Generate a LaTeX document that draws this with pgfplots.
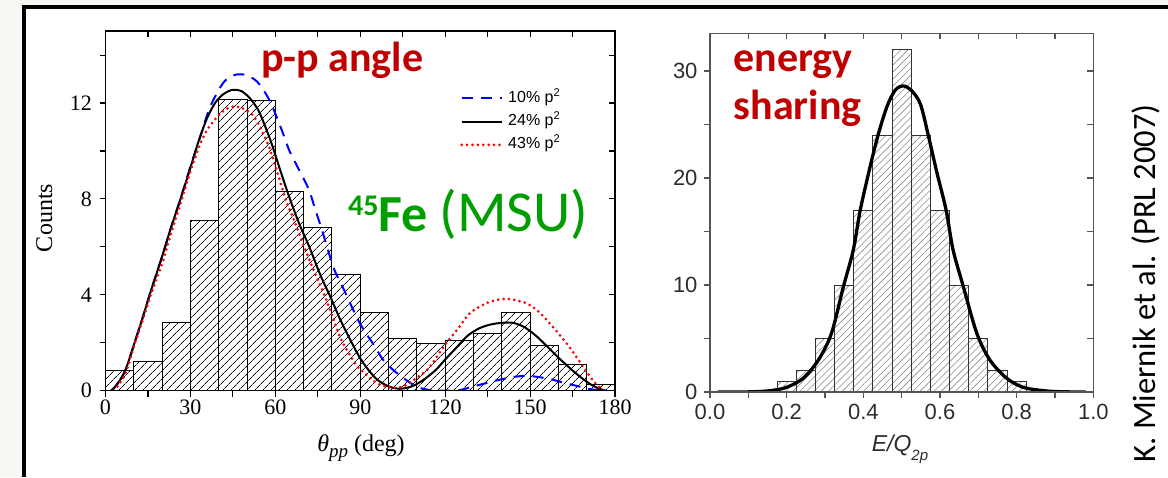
\documentclass[border=0pt]{standalone}
\usepackage{fontspec}
\setmainfont{Liberation Serif}
\newfontfamily\arialfont{Liberation Sans}
\newfontfamily\calfont{Carlito}
\usepackage{pgfplots}
\pgfplotsset{compat=1.18}
\usetikzlibrary{patterns.meta}
\definecolor{bg}{RGB}{247,247,243}
\definecolor{dred}{RGB}{192,0,0}
\definecolor{fegreen}{RGB}{0,158,0}
\definecolor{axgray}{RGB}{85,85,85}
\definecolor{tickgray}{RGB}{45,45,45}
\pgfplotsset{
  leftbase/.style={at={(105.5pt,86.3pt)}, anchor=south west, scale only axis,
    width=509.5pt, height=359.6pt, xmin=0, xmax=180, ymin=0, ymax=15,
    xtick={0,30,...,180}, minor xtick={15,45,...,165},
    ytick={0,4,8,12}, minor ytick={2,6,10,14},
    axis line style={line width=1.2pt},
    every tick/.style={black, line width=1.1pt},
    major tick length=6pt, minor tick length=6pt},
  rightbase/.style={at={(710pt,85pt)}, anchor=south west, scale only axis,
    width=383.3pt, height=358.5pt, xmin=0, xmax=1, ymin=0, ymax=33.5,
    xtick={0,0.2,...,1.0}, minor xtick={0.1,0.3,0.5,0.7,0.9},
    ytick={0,10,20,30}, minor ytick={5,15,25},
    axis line style={line width=1.3pt, draw=axgray},
    every tick/.style={axgray, line width=1.2pt},
    major tick length=6pt, minor tick length=6pt}
}
\begin{document}
\begin{tikzpicture}[x=1pt,y=1pt]
\useasboundingbox (0,0) rectangle (1168,477);
\fill[bg] (0,0) rectangle (1168,477);
\fill[white] (24,0) rectangle (1168,469.5);
\draw[line width=4pt] (24,0) -- (24,469.5) -- (1168,469.5);

% ---------------- left panel ----------------
\begin{axis}[leftbase, xtick pos=left, ytick pos=left, tick align=outside,
  ticklabel style={font=\fontsize{22}{22}\selectfont},
  yticklabel style={xshift=-4pt},
  /pgf/number format/assume math mode=true,
  legend style={at={(0.6958,0.836)}, anchor=north west, draw=none, fill=none,
    inner sep=0pt, row sep=7.3pt, column sep=5pt,
    font=\arialfont\fontsize{16}{16}\selectfont,
    nodes={inner sep=0pt, text height=12pt, text depth=4pt}},
  legend cell align=left,
  legend image code/.code={\draw[#1] (0pt,0pt) -- (40pt,0pt);}]
\addplot[ybar interval, draw=black, line width=1pt,
  pattern={Lines[angle=45,distance=5.4pt,line width=0.75pt]}, pattern color=black, forget plot]
coordinates {(0,0.85)(10,1.22)(20,2.85)(30,7.1)(40,12.15)(50,12.1)(60,8.33)(70,6.82)(80,4.86)(90,3.26)(100,2.19)(110,1.96)(120,2.08)(130,2.37)(140,3.27)(150,1.87)(160,1.1)(170,0.25)(180,0.25)};
\addplot[blue, line width=2pt, dash pattern=on 11pt off 8pt, smooth]
coordinates {(2,0)(4,0.25)(7,0.85)(10,1.9)(13,3.0)(16,4.15)(20,5.6)(23,6.75)(26.5,8.0)(30,9.35)(33.5,10.6)(36.5,11.7)(39.3,12.4)(42,12.9)(45,13.15)(48,13.2)(51,13.1)(53.5,12.9)(55.5,12.6)(58,12.1)(60.2,11.5)(62.5,10.8)(65,10.0)(68,9.3)(71.8,8.4)(74,7.6)(76.5,6.7)(78.5,5.9)(81,5.0)(83.5,4.4)(87,3.5)(90.4,2.7)(95.1,1.85)(98,1.3)(101.5,0.88)(105,0.55)(108,0.3)(111,0.12)(115,0.02)(120,0)(125,0.02)(130,0.18)(135,0.33)(139.3,0.46)(144,0.57)(148.6,0.62)(153,0.57)(157.9,0.46)(162,0.33)(167.2,0.18)(171,0.07)(175.3,0)};
\addlegendentry{10\% p\textsuperscript{2}}
\addplot[black, line width=2pt, smooth]
coordinates {(2,0)(4,0.25)(7,0.85)(10,1.9)(13,3.0)(16,4.15)(20,5.6)(23,6.75)(26.5,8.0)(30,9.3)(33,10.45)(36,11.4)(39,12.05)(42,12.4)(45,12.55)(48,12.5)(51,12.2)(54,11.7)(56.5,11.0)(59,10.2)(62,9.1)(65,8.05)(68.5,6.95)(72,6.0)(76,4.8)(79.5,3.9)(83,2.95)(87,2.0)(90,1.35)(93,0.85)(96,0.46)(100,0.18)(104,0.08)(108,0.17)(111,0.35)(114,0.6)(117,0.9)(120,1.3)(124,1.8)(128,2.3)(132,2.6)(136,2.76)(140,2.83)(144,2.83)(148,2.65)(152,2.3)(156,1.85)(160,1.38)(164,0.95)(168,0.55)(172,0.22)(175,0.06)(177,0)};
\addlegendentry{24\% p\textsuperscript{2}}
\addplot[red, line width=3pt, line cap=round, dash pattern=on 0pt off 5.4pt, smooth]
coordinates {(3,0)(5,0.3)(7.3,0.8)(10.2,1.9)(13,2.9)(16,4.0)(20,5.3)(23,6.5)(26.5,7.8)(28.8,8.7)(31,9.5)(33.5,10.3)(36,10.9)(39.3,11.4)(42,11.7)(45,11.85)(48,11.8)(52,11.5)(55,10.9)(58,10.1)(61,9.0)(63.6,8.0)(67,7.0)(70.5,5.9)(74,4.9)(77.3,4.0)(80.5,3.0)(83,2.2)(86,1.55)(89,1.0)(92.8,0.6)(96,0.3)(100,0.15)(103,0.12)(106,0.22)(109,0.46)(113.7,0.87)(117,1.4)(119.5,1.85)(124.2,2.54)(128.8,3.24)(134.6,3.65)(139,3.8)(143,3.82)(148.6,3.65)(153,3.3)(157.9,2.68)(163.7,1.85)(169.5,0.87)(173,0.32)(176,0)};
\addlegendentry{43\% p\textsuperscript{2}}
\end{axis}
\begin{axis}[leftbase, xtick pos=right, ytick pos=right, tick align=inside,
  xticklabels={}, yticklabels={}]
\end{axis}

% ---------------- right panel ----------------
\begin{axis}[rightbase, xtick pos=left, ytick pos=left, tick align=outside,
  ticklabel style={font=\arialfont\fontsize{22}{22}\selectfont, text=tickgray},
  xticklabel style={yshift=-3pt, /pgf/number format/.cd, fixed, fixed zerofill, precision=1},
  yticklabel style={xshift=-3pt},
  /pgf/number format/assume math mode=true]
\addplot[ybar interval, draw=black!80, line width=0.9pt,
  pattern={Lines[angle=45,distance=5pt,line width=0.6pt]}, pattern color=black!45]
coordinates {(0.175,1)(0.225,2)(0.275,5)(0.325,10)(0.375,17)(0.425,24)(0.475,32)(0.525,24)(0.575,17)(0.625,10)(0.675,5)(0.725,2)(0.775,1)(0.825,1)};
\addplot[black, line width=3.3pt, smooth]
coordinates {(0.02,0)(0.10,0.01)(0.157,0.12)(0.2,0.44)(0.243,1.28)(0.283,3.0)(0.317,5.49)(0.348,9.84)(0.374,13.3)(0.392,17.0)(0.418,21.1)(0.440,24.2)(0.462,26.7)(0.483,28.2)(0.504,28.6)(0.525,28.2)(0.549,26.9)(0.570,23.9)(0.592,20.5)(0.616,17.0)(0.634,13.3)(0.661,9.84)(0.696,5.49)(0.730,3.0)(0.774,1.28)(0.817,0.44)(0.870,0.12)(0.92,0.02)(0.98,0)};
\end{axis}
\begin{axis}[rightbase, xtick pos=right, ytick pos=right, tick align=inside,
  xticklabels={}, yticklabels={}]
\end{axis}

% ---------------- texts ----------------
\node[anchor=base west, inner sep=0pt, text=dred, font=\calfont\bfseries\fontsize{42}{48}\selectfont] at (261,405.3) {p-p angle};
\node[anchor=base west, inner sep=0pt, text=dred, font=\calfont\bfseries\fontsize{42}{48}\selectfont] at (733.5,405.3) {energy};
\node[anchor=base west, inner sep=0pt, text=dred, font=\calfont\bfseries\fontsize{42}{48}\selectfont] at (733.5,357) {sharing};
\node[anchor=base west, inner sep=0pt, text=fegreen, font=\calfont\fontsize{52}{60}\selectfont] at (348,245.3)
  {\raisebox{16pt}{\fontsize{30}{30}\selectfont\bfseries 45}{\bfseries Fe} {\fontsize{58}{60}\selectfont(MSU)}};
\node[rotate=90, anchor=base, inner sep=0pt, font=\calfont\fontsize{32.5}{33}\selectfont] at (1155,193.7) {K. Miernik et al. (PRL 2007)};
\node[rotate=90, anchor=base, inner sep=0pt, font=\fontsize{24}{24}\selectfont] at (52,259) {Counts};
\node[anchor=base, inner sep=0pt, font=\fontsize{24}{24}\selectfont] at (361,25.3)
  {\textit{θ}\raisebox{-6pt}{\fontsize{19}{19}\selectfont\textit{pp}}\ (deg)};
\node[anchor=base, inner sep=0pt, text=tickgray, font=\arialfont\itshape\fontsize{23}{23}\selectfont] at (900,25.3)
  {E/Q\raisebox{-9pt}{\fontsize{15}{15}\selectfont 2p}};
\end{tikzpicture}
\end{document}
